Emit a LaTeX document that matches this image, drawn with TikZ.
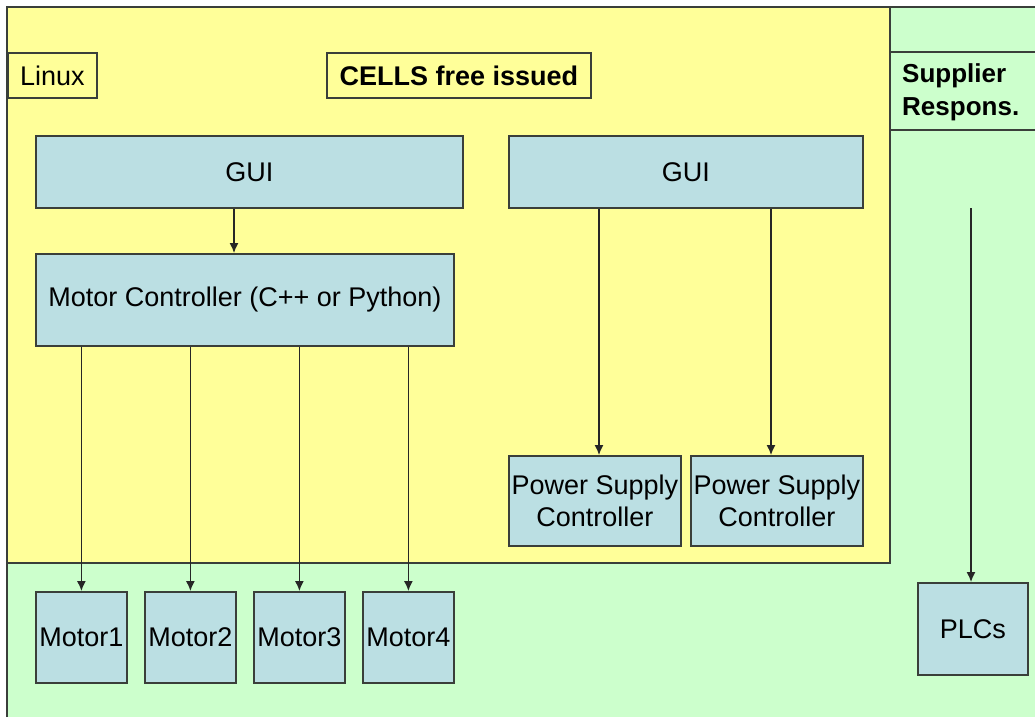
\documentclass[tikz,border=0pt]{standalone}
\usepackage{fontspec}
\setmainfont{Liberation Sans}
\usetikzlibrary{arrows.meta}
\definecolor{ylw}{HTML}{FFFF99}
\definecolor{grn}{HTML}{CCFFCC}
\definecolor{blu}{HTML}{BBDFE3}
\definecolor{edge}{HTML}{3A3F3A}
\tikzset{
  box/.style={draw=edge, line width=1.8pt, fill=blu, anchor=north west, inner sep=0pt, align=center, font=\fontsize{27}{32}\selectfont},
  lbl/.style={draw=edge, line width=1.8pt, anchor=north west, inner sep=0pt, font=\fontsize{27}{32}\selectfont},
  arr/.style={draw=black!85, line width=1.3pt, -{Latex[length=10pt,width=9pt]}}
}
\begin{document}
\begin{tikzpicture}[x=1pt,y=-1pt]
\useasboundingbox (0,0) rectangle (1035,717);
\fill[white] (0,0) rectangle (1035,717);
% outer green
\fill[grn] (7,7) rectangle (1035,717);
\draw[edge, line width=2pt] (7,717) -- (7,7) -- (1035,7);
% yellow region
\filldraw[fill=ylw, draw=edge, line width=2pt] (7,7) rectangle (890,563);
% labels
\node[lbl, fill=ylw, minimum width=89pt, minimum height=45pt] (linux) at (7,52) {Linux};
\node[lbl, fill=ylw, minimum width=264pt, minimum height=45pt, font=\fontsize{27}{32}\selectfont\bfseries] (cells) at (326,52) {CELLS free issued};
\draw[edge, line width=1.8pt] (1035,52) -- (890,52) (890,130) -- (1035,130);
\node[anchor=west, inner sep=0pt, align=left, font=\fontsize{26}{33}\selectfont\bfseries] (sup) at (902,92) {Supplier\\Respons.};
% boxes
\node[box, minimum width=427pt, minimum height=72pt] (gui1) at (35,135) {GUI};
\node[box, minimum width=354pt, minimum height=72pt] (gui2) at (508,135) {GUI};
\node[box, minimum width=418pt, minimum height=92pt] (mc) at (35,253) {Motor Controller (C++ or Python)};
\node[box, minimum width=172pt, minimum height=90pt] (ps1) at (508,455) {Power Supply\\Controller};
\node[box, minimum width=172pt, minimum height=90pt] (ps2) at (690,455) {Power Supply\\Controller};
\node[box, minimum width=91pt, minimum height=91pt] (m1) at (35,591) {Motor1};
\node[box, minimum width=91pt, minimum height=91pt] (m2) at (144,591) {Motor2};
\node[box, minimum width=91pt, minimum height=91pt] (m3) at (253,591) {Motor3};
\node[box, minimum width=91pt, minimum height=91pt] (m4) at (362,591) {Motor4};
\node[box, minimum width=110pt, minimum height=92pt] (plc) at (917,582) {PLCs};
% arrows
\draw[arr] (gui1.south -| 234,0) -- (mc.north -| 234,0);
\draw[arr] (mc.south -| m1.north) -- (m1.north);
\draw[arr] (mc.south -| m2.north) -- (m2.north);
\draw[arr] (mc.south -| m3.north) -- (m3.north);
\draw[arr] (mc.south -| m4.north) -- (m4.north);
\draw[arr] (gui2.south -| 599,0) -- (ps1.north -| 599,0);
\draw[arr] (gui2.south -| 771,0) -- (ps2.north -| 771,0);
\coordinate (s) at (971,208);
\draw[arr] (s) -- (plc.north -| s);
\end{tikzpicture}
\end{document}
